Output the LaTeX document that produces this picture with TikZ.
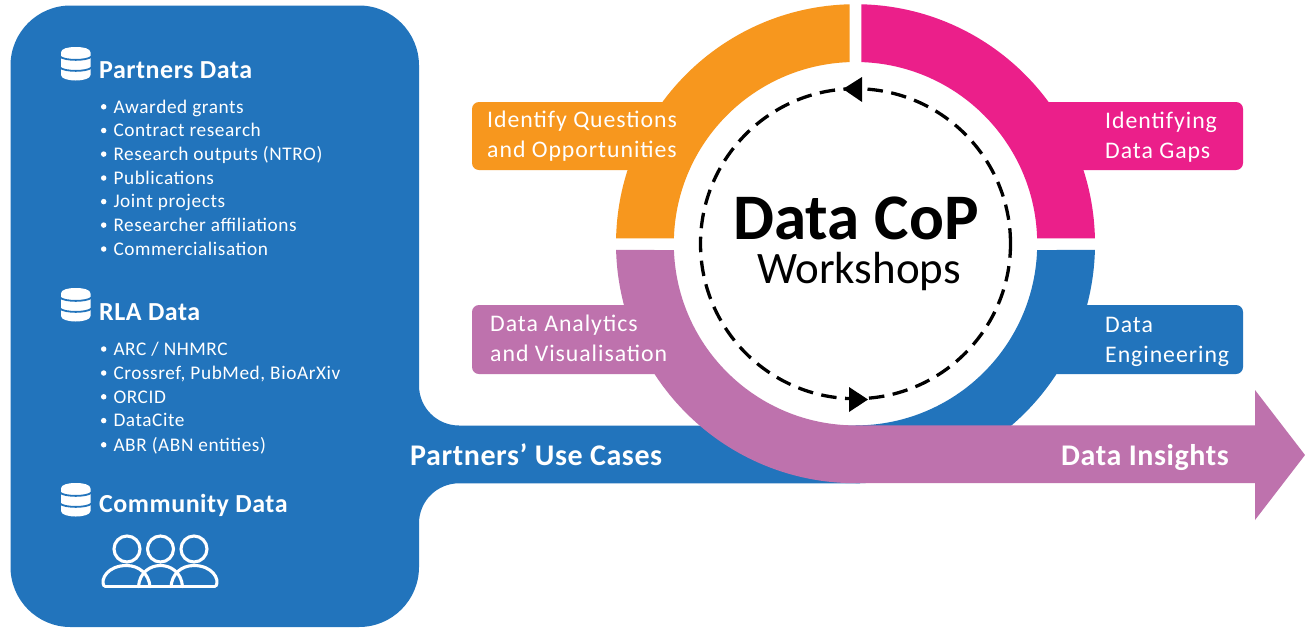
\documentclass[tikz,border=0pt]{standalone}
\usetikzlibrary{calc}
\usepackage{fontspec}
\setmainfont{Carlito}
\definecolor{cblue}{HTML}{2274BC}
\definecolor{corange}{HTML}{F7971E}
\definecolor{cpink}{HTML}{EB1F8A}
\definecolor{cpurple}{HTML}{BE72AD}
\newcommand{\dbicon}[2]{%
  \begin{scope}[shift={(#1,#2)}]
    \fill[white] (0,5.5) .. controls (0,1.5) and (7,0) .. (14.75,0) .. controls (22.5,0) and (29.5,1.5) .. (29.5,5.5)
      -- (29.5,28) .. controls (29.5,31.5) and (22.5,33.5) .. (14.75,33.5) .. controls (7,33.5) and (0,31.5) .. (0,28) -- cycle;
    \draw[cblue,line width=1.8pt] (-1,9.5) .. controls (3,14) and (26.5,14) .. (30.5,9.5);
    \draw[cblue,line width=1.8pt] (-1,20.5) .. controls (3,25) and (26.5,25) .. (30.5,20.5);
  \end{scope}}
\newcommand{\dome}[2]{(#1-#2,586.7) .. controls (#1-#2+1,572) and (#1-10,565.5) .. (#1,565.5) .. controls (#1+10,565.5) and (#1+#2-1,572) .. (#1+#2,586.7)}
\tikzset{
  x=1pt,y=-1pt,
  item/.style={anchor=base west,text=white,inner sep=0pt,font=\fontsize{19.3}{21}\selectfont\addfontfeature{LetterSpace=3}},
  head/.style={anchor=base west,text=white,inner sep=0pt,font=\fontsize{26}{28}\selectfont\bfseries\addfontfeature{LetterSpace=2}},
  tab/.style={anchor=base west,text=white,inner sep=0pt,font=\fontsize{23.8}{26}\selectfont\addfontfeature{LetterSpace=4}},
  bandlabel/.style={anchor=base west,text=white,inner sep=0pt,font=\fontsize{30}{32}\selectfont\bfseries\addfontfeature{LetterSpace=2}},
  bul/.style={circle,fill=white,inner sep=0pt,minimum size=5.5pt},
  dashring/.style={black,line width=3.3pt,dash pattern=on 15.5pt off 8.5pt},
  people/.style={white,line width=3.1pt,line join=round,line cap=round}
}
\begin{document}
\begin{tikzpicture}
\useasboundingbox (0,0) rectangle (1305,627);
\fill[white] (0,0) rectangle (1305,627);
\coordinate (c) at (855.5,243.7);
% left panel with the band running out of it
\fill[cblue] (200,5.5) [rounded corners=60pt] -- (419,5.5) [rounded corners=40pt] -- (419,425.5)
  [sharp corners] -- (860,425.5) -- (860,483.3) [rounded corners=40pt] -- (419,483.3)
  [rounded corners=60pt] -- (419,627) -- (10.5,627) -- (10.5,5.5) [sharp corners] -- cycle;
% tabs
\fill[corange] (680,102) [rounded corners=7pt] -- (472,102) -- (472,170) [sharp corners] -- (680,170) -- cycle;
\fill[cpink] (1030,102) [rounded corners=7pt] -- (1243,102) -- (1243,170) [sharp corners] -- (1030,170) -- cycle;
\fill[cblue] (1035,305) [rounded corners=7pt] -- (1243,305) -- (1243,374) [sharp corners] -- (1035,374) -- cycle;
\fill[cpurple] (680,305) [rounded corners=7pt] -- (472,305) -- (472,374) [sharp corners] -- (680,374) -- cycle;
% ring
\fill[corange] (c) ++(91.39:239.5pt) arc[start angle=91.39,end angle=178.71,radius=239.5pt]
  -- ($(c)+(178.30:181.7pt)$) arc[start angle=178.30,end angle=91.83,radius=181.7pt] -- cycle;
\fill[cpink] (c) ++(88.61:239.5pt) arc[start angle=88.61,end angle=1.29,radius=239.5pt]
  -- ($(c)+(1.70:181.7pt)$) arc[start angle=1.70,end angle=88.17,radius=181.7pt] -- cycle;
\fill[cblue] (c) ++(358.5:239.5pt) arc[start angle=358.5,end angle=270,radius=239.5pt]
  -- ($(c)+(270:181.7pt)$) arc[start angle=270,end angle=358.01,radius=181.7pt] -- cycle;
% purple swoosh and arrow
\fill[cpurple] (c) ++(181.5:239.5pt) arc[start angle=181.5,end angle=270,radius=239.5pt]
  -- (1255,483.2) -- (1255,520) -- (1305,455) -- (1255,390) -- (1255,425.4) -- (855.5,425.4)
  arc[start angle=270,end angle=181.99,radius=181.7pt] -- cycle;
% dashed cycle
\draw[dashring] (c) circle[radius=155pt];
\fill[black] (843,89) -- (862,77) -- (862,102) -- cycle;
\fill[black] (868,399.5) -- (849,387) -- (849,412) -- cycle;
\node[anchor=base,inner sep=0pt,font=\fontsize{65}{67}\selectfont\bfseries] (title) at (856,239.5) {Data CoP};
\node[anchor=base,inner sep=0pt,font=\fontsize{45}{47}\selectfont] (sub) at (859,283) {Workshops};
% tab labels
\node[tab] (t1) at (487,127) {Identify Questions};
\node[tab] (t2) at (487,157) {and Opportunities};
\node[tab] (t3) at (1105,128) {Identifying};
\node[tab] (t4) at (1105,158) {Data Gaps};
\node[tab] (t5) at (490,331) {Data Analytics};
\node[tab] (t6) at (490,361) {and Visualisation};
\node[tab] (t7) at (1105,332) {Data};
\node[tab] (t8) at (1105,362) {Engineering};
\node[bandlabel] (b1) at (410,465) {Partners’ Use Cases};
\node[bandlabel] (b2) at (1061,465) {Data Insights};
% left panel
\dbicon{61}{47}
\dbicon{61}{288}
\dbicon{61}{483}
\node[head] (h1) at (99,78) {Partners Data};
\node[head] (h2) at (99,320.5) {RLA Data};
\node[head] (h3) at (99,512.5) {Community Data};
\foreach \n/\y/\s in {a/113/Awarded grants,b/136.7/Contract research,c/160.3/Research outputs (NTRO),d/184.2/Publications,e/207.8/Joint projects,f/231.3/Researcher affiliations,g/255.2/Commercialisation,h/355.2/{ARC / NHMRC},i/379.2/{Crossref, PubMed, BioArXiv},j/403/ORCID,k/426.8/DataCite,l/451/ABR (ABN entities)}{
  \node[item] (it\n) at (113.3,\y) {\s};
  \node[bul] (bu\n) at (103.7,\y-6.2) {};
}
% people
\draw[people] (127,549) circle[radius=13pt] (160.5,549) circle[radius=13pt] (194,549) circle[radius=13pt];
\draw[people] (105,586.7) -- (215,586.7);
\draw[people] (104,586) .. controls (100,579) and (108,565.5) .. (126.5,565.5) .. controls (139,565.5) and (149,574) .. (150,586.7);
\draw[people] \dome{160.5}{22};
\draw[people] (216,586) .. controls (220,579) and (212,565.5) .. (194,565.5) .. controls (181,565.5) and (172,574) .. (171,586.7);
\end{tikzpicture}
\end{document}
